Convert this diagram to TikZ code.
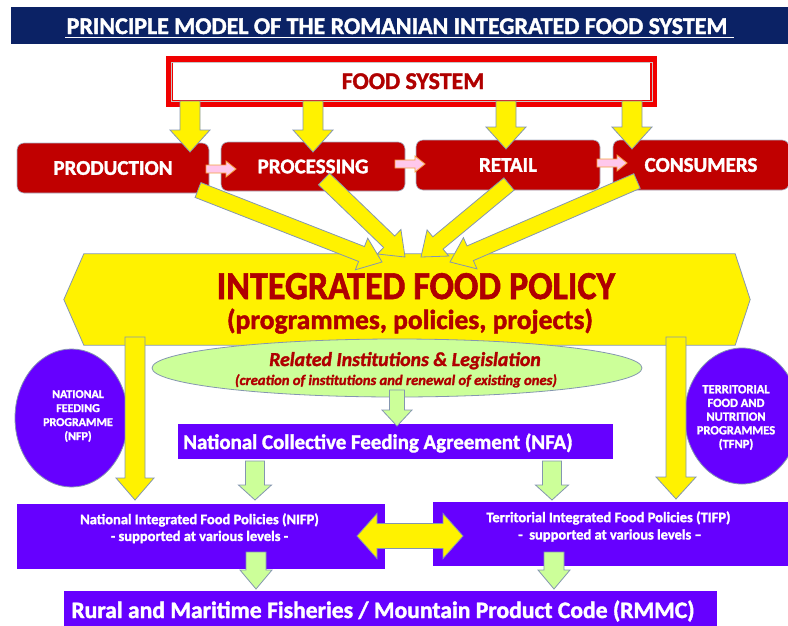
\documentclass[tikz,border=0pt]{standalone}
\usepackage{fontspec}
\setmainfont{Carlito}[BoldFeatures={FakeBold=1.6}, BoldItalicFeatures={FakeBold=1.6}]
\usetikzlibrary{calc,shapes.geometric}

\definecolor{navy}{HTML}{0B2265}
\definecolor{boxred}{HTML}{C00000}
\definecolor{txtred}{HTML}{B00000}
\definecolor{frame}{HTML}{F00000}
\definecolor{violet}{HTML}{6600FF}
\definecolor{lgreen}{HTML}{CCFF99}
\definecolor{edge}{HTML}{8496B0}
\definecolor{pinkf}{HTML}{FFC8EC}
\definecolor{pinkd}{HTML}{F4A040}

% block arrow: style, start, tip, shaft half width, head half width, head length
\newcommand{\blockarrow}[6]{%
  \coordinate (ba-h) at ($(#3)!#6!(#2)$);
  \draw[#1] ($(#2)!#4!90:(#3)$) -- ($(ba-h)!#4!-90:(#2)$) -- ($(ba-h)!#5!-90:(#2)$)
    -- (#3) -- ($(ba-h)!#5!90:(#2)$) -- ($(ba-h)!#4!90:(#2)$) -- ($(#2)!#4!-90:(#3)$) -- cycle;
}

\tikzset{
  fsz/.style={font=\fontsize{#1}{#1}\selectfont\bfseries},
  yarrow/.style={fill=yellow, draw=edge, line width=0.8pt, line join=miter},
  garrow/.style={fill=lgreen, draw=edge, line width=0.8pt},
  parrow/.style={fill=pinkf, draw=pinkd, line width=0.8pt},
  stagebox/.style={fill=boxred, draw=edge!70, line width=0.6pt, rounded corners=7pt,
    text=white, fsz=21, inner sep=0pt},
  vbox/.style={fill=violet, draw=violet, text=white, inner sep=0pt},
  vcirc/.style={ellipse, fill=violet, draw=edge, line width=0.8pt, inner sep=0pt},
  ctext/.style={text=white, align=center, inner sep=0pt},
}

\begin{document}
\begin{tikzpicture}[x=1pt,y=-1pt]
\useasboundingbox (0,0) rectangle (788,625);

% title banner
\node (titlebar) [fill=navy, minimum width=777pt, minimum height=37pt, inner sep=0pt,
  anchor=north west] at (11,7) {};
\node (title) [anchor=base, text=white, fsz=24, inner sep=0pt] at (397,34)
  {PRINCIPLE MODEL OF THE ROMANIAN INTEGRATED FOOD SYSTEM};
\draw[white, line width=1.2pt] (65,37.8) -- (734,37.8);

% food system frame
\node (fs) [draw=frame, line width=7pt, fill=white, minimum width=484pt,
  minimum height=44pt, inner sep=0pt] at (411,81.5) {};
\draw[gray!45, line width=0.6pt] (171,62) rectangle (652,101);
\node (fstext) [anchor=base, text=txtred, fsz=24, inner sep=0pt] at (413,89) {FOOD SYSTEM};

% chain stages
\node (prod) [stagebox, minimum width=192pt, minimum height=50pt] at (113,168) {PRODUCTION};
\node (proc) [stagebox, minimum width=184pt, minimum height=49pt] at (313,166.5) {PROCESSING};
\node (ret)  [stagebox, minimum width=184pt, minimum height=50pt] at (508,165) {RETAIL};
\node (cons) [stagebox, minimum width=176pt, minimum height=50pt] at (701,165) {CONSUMERS};

% feeds from the food system into each stage
\coordinate (f1s) at (190,101); \coordinate (f1e) at (190,152);
\coordinate (f2s) at (313,101); \coordinate (f2e) at (313,152);
\coordinate (f3s) at (506,101); \coordinate (f3e) at (506,149);
\coordinate (f4s) at (632,101); \coordinate (f4e) at (632,149);
\blockarrow{yarrow}{f1s}{f1e}{10pt}{20pt}{22pt}
\blockarrow{yarrow}{f2s}{f2e}{10pt}{20pt}{22pt}
\blockarrow{yarrow}{f3s}{f3e}{10pt}{20pt}{22pt}
\blockarrow{yarrow}{f4s}{f4e}{10pt}{20pt}{22pt}

% links along the chain
\coordinate (p1s) at (206,169); \coordinate (p1e) at (236,169);
\coordinate (p2s) at (395,164); \coordinate (p2e) at (425,164);
\coordinate (p3s) at (597,163); \coordinate (p3e) at (627,163);
\blockarrow{parrow}{p1s}{p1e}{4pt}{8pt}{10pt}
\blockarrow{parrow}{p2s}{p2e}{4pt}{8pt}{10pt}
\blockarrow{parrow}{p3s}{p3e}{4pt}{8pt}{10pt}

% integrated food policy banner
\node (ifp) [minimum width=651pt, minimum height=91pt, inner sep=0pt] at (409.5,299.5) {};
\draw[fill=yellow, draw=edge, line width=0.8pt] (ifp.north west) -- (ifp.north east)
  -- ($(ifp.east)+(15,0)$) -- (ifp.south east) -- (ifp.south west) -- ($(ifp.west)+(-20,0)$) -- cycle;
\node (ifpt) [anchor=base, text=txtred, fsz=36, inner sep=0pt] at (416,299)
  {\scalebox{1}[1.1]{INTEGRATED FOOD POLICY}};
\node (ifps) [anchor=base, text=txtred, fsz=27.5, inner sep=0pt] at (410,329)
  {(programmes, policies, projects)};

% stages converging on the policy
\coordinate (c1s) at (198,190); \coordinate (c1e) at (382,262);
\coordinate (c2s) at (324,179); \coordinate (c2e) at (405,257);
\coordinate (c3s) at (509,184); \coordinate (c3e) at (421,257);
\coordinate (c4s) at (637,181); \coordinate (c4e) at (450,262);
\blockarrow{yarrow}{c1s}{c1e}{8pt}{17pt}{22pt}
\blockarrow{yarrow}{c2s}{c2e}{8pt}{17pt}{22pt}
\blockarrow{yarrow}{c3s}{c3e}{8pt}{17pt}{22pt}
\blockarrow{yarrow}{c4s}{c4e}{8pt}{17pt}{22pt}

% institutions and legislation
\node (inst) [ellipse, fill=lgreen, draw=edge, line width=0.8pt, minimum width=490pt,
  minimum height=58pt, inner sep=0pt] at (397,368) {};
\node (instt) [anchor=base, text=txtred, font=\fontsize{19.8}{19.8}\selectfont\bfseries\itshape,
  inner sep=0pt] at (405,366) {Related Institutions \& Legislation};
\node (insts) [anchor=base, text=txtred, font=\fontsize{14.6}{14.6}\selectfont\bfseries\itshape,
  inner sep=0pt] at (396,385) {(creation of institutions and renewal of existing ones)};

% side programmes
\node (nfp) [vcirc, minimum width=113pt, minimum height=138pt] at (71.5,418) {};
\node (nfpt) [ctext, font=\fontsize{12}{14}\selectfont\bfseries] at (78,416)
  {NATIONAL\\FEEDING\\PROGRAMME\\(NFP)};
\node (tfnp) [vcirc, minimum width=115pt, minimum height=136pt] at (742,416) {};
\node (tfnpt) [ctext, font=\fontsize{12.5}{13.7}\selectfont\bfseries] at (736,417.5)
  {TERRITORIAL\\FOOD AND\\NUTRITION\\PROGRAMMES\\(TFNP)};

% policy down to the two policy levels
\coordinate (v1s) at (135,337); \coordinate (v1e) at (135,500);
\coordinate (v2s) at (676,337); \coordinate (v2e) at (676,499);
\blockarrow{yarrow}{v1s}{v1e}{10pt}{19pt}{22pt}
\blockarrow{yarrow}{v2s}{v2e}{10pt}{20pt}{22pt}

% national collective feeding agreement
\node (nfa) [vbox, minimum width=434pt, minimum height=34pt] at (395,441) {};
\node (nfat) [anchor=base, text=white, fsz=20.9, inner sep=0pt] at (378,449)
  {National Collective Feeding Agreement (NFA)};
\coordinate (g0s) at (397,390); \coordinate (g0e) at (397,426);
\blockarrow{garrow}{g0s}{g0e}{7.5pt}{15pt}{16pt}

% national and territorial policies
\node (nifp) [vbox, minimum width=367pt, minimum height=64pt] at (201,536) {};
\node (nifpa) [text=white, fsz=14.5, inner sep=0pt] at (199.5,520) {National Integrated Food Policies (NIFP)};
\node (nifpb) [text=white, fsz=14.5, inner sep=0pt] at (199.5,537) {- supported at various levels -};
\node (tifp) [vbox, minimum width=355pt, minimum height=63pt] at (610.5,533.5) {};
\node (tifpa) [text=white, fsz=14.5, inner sep=0pt] at (608.5,518) {Territorial Integrated Food Policies (TIFP)};
\node (tifpb) [text=white, fsz=14.5, inner sep=0pt] at (610,535.5) {-\ \ supported at various levels --};

\coordinate (g1s) at (255,461); \coordinate (g1e) at (255,500);
\coordinate (g2s) at (552,461); \coordinate (g2e) at (552,500);
\blockarrow{garrow}{g1s}{g1e}{9.5pt}{16.5pt}{15pt}
\blockarrow{garrow}{g2s}{g2e}{9.5pt}{16.5pt}{15pt}

% two-way exchange between the levels
\coordinate (dl) at (357,536); \coordinate (dr) at (463,536);
\draw[yarrow] (dl) -- ($(dl)+(20,-22.5)$) -- ($(dl)+(20,-12.5)$) -- ($(dr)+(-20,-12.5)$)
  -- ($(dr)+(-20,-22.5)$) -- (dr) -- ($(dr)+(-20,22.5)$) -- ($(dr)+(-20,12.5)$)
  -- ($(dl)+(20,12.5)$) -- ($(dl)+(20,22.5)$) -- cycle;

% product code
\node (rmmc) [vbox, minimum width=652pt, minimum height=39pt] at (390,610.5) {};
\node (rmmct) [anchor=base, text=white, fsz=23.6, inner sep=0pt] at (383,618)
  {Rural and Maritime Fisheries / Mountain Product Code (RMMC)};
\coordinate (g3s) at (256,552); \coordinate (g3e) at (256,589);
\coordinate (g4s) at (554,552); \coordinate (g4e) at (554,589);
\blockarrow{garrow}{g3s}{g3e}{10pt}{16pt}{19pt}
\blockarrow{garrow}{g4s}{g4e}{10pt}{16pt}{19pt}
\end{tikzpicture}
\end{document}
